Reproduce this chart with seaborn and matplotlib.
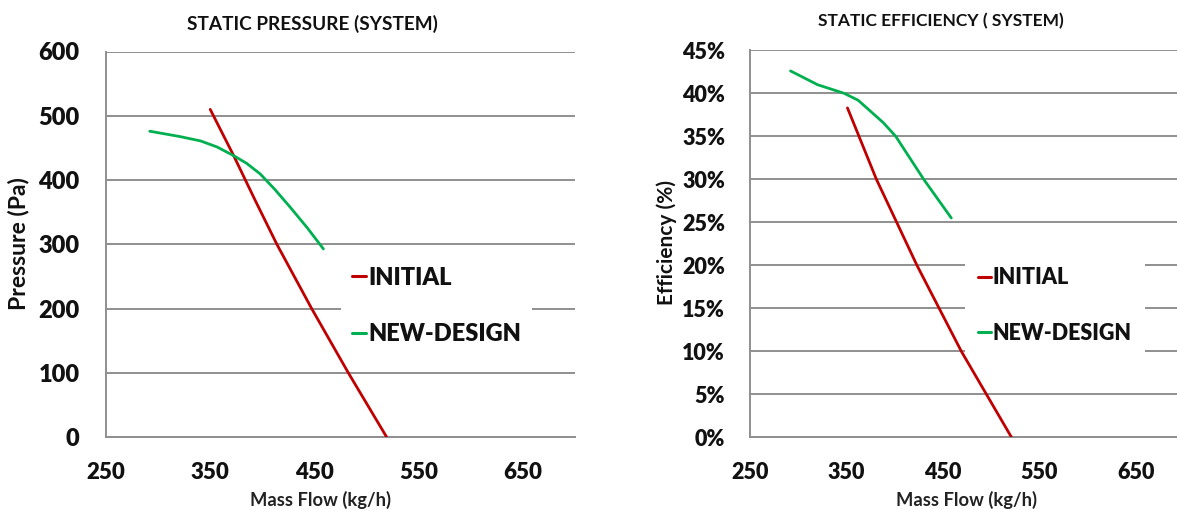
import matplotlib
matplotlib.use("Agg")
import matplotlib.pyplot as plt
import seaborn as sns
import pandas as pd
from matplotlib.lines import Line2D

# Static pressure curves (mass flow kg/h -> pressure Pa)
initial_pressure_flow = [350, 372.5, 393, 414, 447.4, 482.6, 519.4]
initial_pressure = [510, 438, 369, 300, 200, 100, 0]
new_pressure_flow = [292, 320, 340.6, 356.6, 372.5, 385, 398, 412, 426.8, 443, 458.6]
new_pressure = [476, 468, 461, 451.5, 438, 426, 409.5, 385.5, 357.7, 326, 293]

# Static efficiency curves (mass flow kg/h -> efficiency %)
initial_eff_flow = [351, 381, 402, 423, 446, 469, 495, 521]
initial_eff = [38.3, 30, 25, 20, 15, 10, 5, 0]
new_eff_flow = [292, 320, 347.5, 362, 375, 388, 401, 430, 458.6]
new_eff = [42.6, 41.0, 40.0, 39.2, 37.9, 36.6, 35.0, 30.0, 25.5]

series_names = ["INITIAL", "NEW-DESIGN"]
x_ticks = [250, 350, 450, 550, 650]
pressure_ticks = [0, 100, 200, 300, 400, 500, 600]
eff_ticks = [0, 5, 10, 15, 20, 25, 30, 35, 40, 45]

palette = {"INITIAL": "#C00000", "NEW-DESIGN": "#00B050"}
grid_col = "#8f8f8f"
ink = "#111111"

sns.set_theme(style="white")
plt.rcParams["font.family"] = ["Lato", "DejaVu Sans"]

W, H = 1177, 509
fig = plt.figure(figsize=(W / 100, H / 100), dpi=100)


def frac_box(x0, y_top, x1, y_bot):
    return [x0 / W, 1 - y_bot / H, (x1 - x0) / W, (y_bot - y_top) / H]


def build(flow_a, val_a, flow_b, val_b, y_name):
    return pd.concat([
        pd.DataFrame({"flow": flow_a, y_name: val_a, "series": series_names[0]}),
        pd.DataFrame({"flow": flow_b, y_name: val_b, "series": series_names[1]}),
    ], ignore_index=True)


df_p = build(initial_pressure_flow, initial_pressure, new_pressure_flow, new_pressure, "pressure")
df_e = build(initial_eff_flow, initial_eff, new_eff_flow, new_eff, "eff")

ax1 = fig.add_axes(frac_box(106, 51.5, 575, 437.3))
ax2 = fig.add_axes(frac_box(750, 50.3, 1177, 437.3))

sns.lineplot(data=df_p, x="flow", y="pressure", hue="series", palette=palette,
             sort=False, estimator=None, lw=2.0, ax=ax1, legend=False, zorder=3)
sns.lineplot(data=df_e, x="flow", y="eff", hue="series", palette=palette,
             sort=False, estimator=None, lw=2.0, ax=ax2, legend=False, zorder=3)


def style_axis(ax, yticks, ylabels, ylim, xlim, ysize, xsize, ypad, xpad):
    ax.set_xlim(*xlim)
    ax.set_ylim(*ylim)
    ax.set_xticks(x_ticks, labels=[str(v) for v in x_ticks],
                  fontweight="heavy", fontsize=xsize, color=ink)
    ax.set_yticks(yticks, labels=ylabels, fontweight="heavy", fontsize=ysize, color=ink)
    ax.grid(axis="y", color=grid_col, lw=1.4)
    ax.grid(axis="x", visible=False)
    for s in ["top", "right"]:
        ax.spines[s].set_visible(False)
    for s in ["left", "bottom"]:
        ax.spines[s].set_color(grid_col)
        ax.spines[s].set_linewidth(1.4)
    ax.tick_params(axis="both", length=0)
    ax.tick_params(axis="y", pad=ypad)
    ax.tick_params(axis="x", pad=xpad)
    ax.set_xlabel("")
    ax.set_ylabel("")
    ax.set_axisbelow(True)


style_axis(ax1, pressure_ticks, [str(v) for v in pressure_ticks], (0, 600), (250, 700),
           17, 16, 19, 18)
style_axis(ax2, eff_ticks, [f"{v}%" for v in eff_ticks], (0, 45), (250, 692.5),
           15.5, 15.5, 18, 18)


# Legends with white backgrounds that break the gridlines (drawn under the curves)
def add_legend(ax, size, x0, y_mid, spacing, pad):
    handles = [Line2D([], [], color=palette[n], lw=2.2) for n in series_names]
    leg = ax.legend(handles, series_names, loc="center left",
                    bbox_to_anchor=(x0 / W, 1 - y_mid / H), bbox_transform=fig.transFigure,
                    frameon=True, facecolor="white", edgecolor="none", framealpha=1,
                    prop={"weight": "heavy", "size": size}, handlelength=0.62,
                    handletextpad=0.08, labelspacing=spacing, borderpad=pad,
                    borderaxespad=0, fancybox=False)
    leg.set_zorder(2)
    for t in leg.get_texts():
        t.set_color(ink)
    return leg


add_legend(ax1, 17, 341, 306, 1.48, 0.45)
add_legend(ax2, 15.5, 965, 305.5, 1.6, 0.6)

# Titles and axis labels
fig.text(312 / W, 1 - 24 / H, "STATIC PRESSURE (SYSTEM)", ha="center", va="center",
         fontsize=13.7, fontweight="bold", color=ink)
fig.text(940.6 / W, 1 - 20.7 / H, "STATIC EFFICIENCY ( SYSTEM)", ha="center", va="center",
         fontsize=12.5, fontweight="bold", color=ink)
fig.text(18.8 / W, 1 - 244 / H, "Pressure (Pa)", rotation=90, ha="center", va="center",
         fontsize=16.5, fontweight="bold", color=ink)
fig.text(666.8 / W, 1 - 242.5 / H, "Efficiency (%)", rotation=90, ha="center", va="center",
         fontsize=15, fontweight="bold", color=ink)
fig.text(321 / W, 1 - 500 / H, "Mass Flow (kg/h)", ha="center", va="center",
         fontsize=13.2, fontweight="bold", color="#222222")
fig.text(966 / W, 1 - 500 / H, "Mass Flow (kg/h)", ha="center", va="center",
         fontsize=13.2, fontweight="bold", color="#222222")

fig.savefig("out.png", dpi=100, facecolor="white")
